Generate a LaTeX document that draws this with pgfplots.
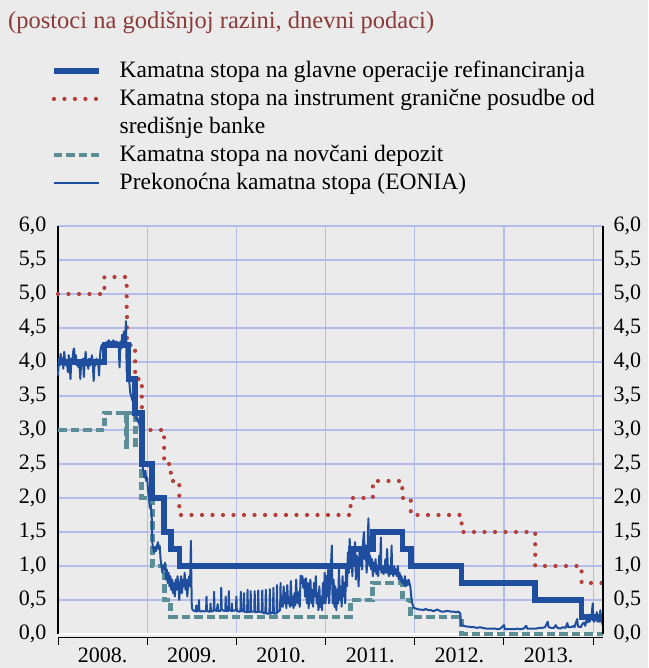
\documentclass[border=0pt]{standalone}
\usepackage{fontspec}
\setmainfont{Liberation Serif}
\usepackage{pgfplots}
\pgfplotsset{compat=1.18}
\definecolor{bg}{HTML}{EBEBEB}
\definecolor{mblue}{HTML}{1F4E9E}
\definecolor{mred}{HTML}{B5403A}
\definecolor{mteal}{HTML}{5C8E95}
\definecolor{mgrid}{HTML}{B4BCEB}
\definecolor{mtitle}{HTML}{8B3A3A}
\pgfplotstableread{
t v
2008.00 3.80
2008.01 4.05
2008.02 3.95
2008.03 4.12
2008.04 3.98
2008.05 4.05
2008.06 3.90
2008.07 4.15
2008.08 4.00
2008.09 3.95
2008.10 4.02
2008.11 3.85
2008.12 4.10
2008.13 4.00
2008.14 3.75
2008.15 4.05
2008.16 3.98
2008.17 4.15
2008.18 4.20
2008.19 4.05
2008.20 4.10
2008.21 3.95
2008.22 4.00
2008.23 3.92
2008.24 4.00
2008.25 3.75
2008.26 4.00
2008.27 3.95
2008.28 4.05
2008.29 3.78
2008.30 4.00
2008.31 4.15
2008.32 3.95
2008.33 4.00
2008.34 3.90
2008.35 4.05
2008.36 3.95
2008.37 4.00
2008.38 4.10
2008.39 3.98
2008.40 3.72
2008.41 4.00
2008.42 3.95
2008.43 4.05
2008.44 3.98
2008.45 4.00
2008.46 3.80
2008.47 4.08
2008.48 4.20
2008.49 4.25
2008.50 4.18
2008.51 4.28
2008.52 4.20
2008.53 4.28
2008.54 4.22
2008.55 4.30
2008.56 4.25
2008.57 4.32
2008.58 4.28
2008.59 4.22
2008.60 4.30
2008.61 4.25
2008.62 4.32
2008.63 4.28
2008.64 4.30
2008.65 4.25
2008.66 4.30
2008.67 4.28
2008.68 4.25
2008.69 3.92
2008.70 4.30
2008.71 4.20
2008.72 4.40
2008.73 4.28
2008.74 4.45
2008.75 4.25
2008.762 4.60
2008.77 3.85
2008.78 3.90
2008.79 3.75
2008.80 3.70
2008.81 3.55
2008.82 3.50
2008.83 3.45
2008.84 3.42
2008.85 3.35
2008.86 3.30
2008.87 3.20
2008.88 3.15
2008.89 3.18
2008.90 3.12
2008.91 3.10
2008.92 3.00
2008.93 2.85
2008.94 2.55
2008.95 2.45
2008.96 2.38
2008.97 2.30
2008.98 2.40
2008.99 2.25
2009.00 2.30
2009.01 2.10
2009.02 2.00
2009.03 1.85
2009.04 1.90
2009.05 1.75
2009.06 1.30
2009.07 1.25
2009.08 1.20
2009.09 1.28
2009.10 1.22
2009.11 1.30
2009.12 1.35
2009.13 1.25
2009.14 1.30
2009.15 1.10
2009.16 1.00
2009.17 0.90
2009.18 1.00
2009.19 0.95
2009.20 1.05
2009.21 0.80
2009.22 0.95
2009.23 0.75
2009.24 0.90
2009.25 0.70
2009.26 0.85
2009.27 0.65
2009.28 0.80
2009.29 0.60
2009.30 0.75
2009.31 0.55
2009.32 0.80
2009.33 0.65
2009.34 0.85
2009.35 0.70
2009.36 0.50
2009.37 0.75
2009.38 0.85
2009.39 0.60
2009.40 0.80
2009.41 0.70
2009.42 0.90
2009.43 0.65
2009.44 0.80
2009.45 0.55
2009.46 0.75
2009.47 0.85
2009.48 0.70
2009.49 1.37
2009.495 0.80
2009.50 0.40
2009.51 0.35
2009.53 0.34
2009.545 0.33
2009.55 0.42
2009.555 0.33
2009.575 0.34
2009.58 0.50
2009.585 0.34
2009.60 0.33
2009.62 0.34
2009.64 0.33
2009.66 0.34
2009.665 0.55
2009.67 0.34
2009.69 0.33
2009.705 0.33
2009.71 0.45
2009.715 0.33
2009.745 0.34
2009.75 0.62
2009.755 0.35
2009.78 0.34
2009.79 0.44
2009.795 0.34
2009.825 0.34
2009.83 0.68
2009.835 0.36
2009.86 0.34
2009.875 0.34
2009.88 0.55
2009.885 0.34
2009.91 0.34
2009.915 0.63
2009.92 0.35
2009.945 0.34
2009.95 0.45
2009.955 0.34
2009.995 0.35
2010.00 0.55
2010.005 0.34
2010.03 0.33
2010.045 0.33
2010.05 0.62
2010.055 0.34
2010.08 0.33
2010.085 0.60
2010.09 0.33
2010.12 0.32
2010.125 0.65
2010.13 0.33
2010.155 0.32
2010.16 0.63
2010.165 0.33
2010.20 0.33
2010.205 0.63
2010.21 0.32
2010.24 0.32
2010.245 0.64
2010.25 0.33
2010.285 0.32
2010.29 0.64
2010.295 0.31
2010.325 0.31
2010.33 0.65
2010.335 0.30
2010.37 0.30
2010.375 0.66
2010.38 0.30
2010.41 0.31
2010.415 0.68
2010.42 0.30
2010.45 0.30
2010.455 0.72
2010.46 0.32
2010.49 0.35
2010.495 0.75
2010.50 0.40
2010.51 0.55
2010.52 0.40
2010.53 0.70
2010.54 0.45
2010.55 0.60
2010.56 0.38
2010.57 0.72
2010.58 0.45
2010.59 0.50
2010.60 0.40
2010.61 0.78
2010.62 0.42
2010.63 0.55
2010.64 0.38
2010.65 0.60
2010.66 0.42
2010.67 0.80
2010.68 0.50
2010.69 0.45
2010.70 0.62
2010.71 0.40
2010.72 0.86
2010.73 0.75
2010.74 0.85
2010.75 0.68
2010.76 0.80
2010.77 0.55
2010.78 0.82
2010.79 0.45
2010.80 0.75
2010.81 0.38
2010.82 0.70
2010.83 0.80
2010.84 0.45
2010.85 0.65
2010.86 0.40
2010.87 0.75
2010.88 0.55
2010.89 0.85
2010.90 0.45
2010.91 0.60
2010.92 0.35
2010.93 0.70
2010.94 0.40
2010.95 0.55
2010.96 0.35
2010.97 0.75
2010.98 0.45
2010.99 0.90
2011.00 0.45
2011.01 0.85
2011.02 0.55
2011.03 0.95
2011.04 0.45
2011.05 0.75
2011.06 1.00
2011.07 1.30
2011.075 0.70
2011.08 0.45
2011.09 0.80
2011.10 0.40
2011.11 0.70
2011.12 0.35
2011.13 0.65
2011.14 0.45
2011.15 0.95
2011.16 0.50
2011.17 0.70
2011.18 0.40
2011.19 0.85
2011.20 0.55
2011.21 0.75
2011.22 0.45
2011.23 1.00
2011.24 0.70
2011.25 1.20
2011.26 0.90
2011.27 1.40
2011.28 1.05
2011.29 1.25
2011.30 0.85
2011.31 1.20
2011.32 1.00
2011.33 1.35
2011.34 0.80
2011.35 1.15
2011.36 1.05
2011.37 0.70
2011.38 1.20
2011.39 1.00
2011.40 1.25
2011.41 0.95
2011.42 1.35
2011.43 1.50
2011.44 1.10
2011.45 1.30
2011.46 0.90
2011.47 1.20
2011.48 1.70
2011.49 1.00
2011.50 1.15
2011.51 0.95
2011.52 1.10
2011.53 0.85
2011.54 1.05
2011.55 0.92
2011.56 1.10
2011.57 0.88
2011.58 1.00
2011.59 0.85
2011.60 1.15
2011.61 0.95
2011.62 1.42
2011.625 0.90
2011.63 0.95
2011.64 1.00
2011.65 0.88
2011.66 0.95
2011.67 1.10
2011.68 0.90
2011.69 1.25
2011.70 0.92
2011.71 0.85
2011.72 1.00
2011.73 0.88
2011.74 1.30
2011.745 0.95
2011.75 0.90
2011.76 0.85
2011.77 1.00
2011.78 0.88
2011.79 0.95
2011.80 0.85
2011.81 1.00
2011.82 0.80
2011.83 0.90
2011.84 0.78
2011.85 0.85
2011.86 0.75
2011.87 0.80
2011.88 0.72
2011.89 0.85
2011.90 0.70
2011.91 0.78
2011.92 0.72
2011.93 0.80
2011.94 0.75
2011.95 0.70
2011.96 0.55
2011.97 0.45
2011.98 0.42
2011.99 0.38
2012.00 0.38
2012.02 0.37
2012.05 0.36
2012.08 0.36
2012.10 0.35
2012.12 0.37
2012.15 0.35
2012.18 0.35
2012.20 0.34
2012.22 0.34
2012.25 0.36
2012.28 0.34
2012.30 0.33
2012.33 0.33
2012.36 0.34
2012.40 0.33
2012.43 0.33
2012.46 0.32
2012.49 0.33
2012.51 0.30
2012.52 0.13
2012.55 0.12
2012.58 0.11
2012.60 0.11
2012.63 0.10
2012.66 0.10
2012.70 0.09
2012.73 0.10
2012.76 0.09
2012.80 0.08
2012.83 0.08
2012.87 0.08
2012.90 0.08
2012.93 0.07
2012.96 0.08
2013.00 0.13
2013.01 0.07
2013.04 0.07
2013.08 0.07
2013.12 0.07
2013.15 0.08
2013.18 0.07
2013.22 0.08
2013.25 0.12
2013.26 0.08
2013.30 0.08
2013.33 0.08
2013.36 0.08
2013.40 0.09
2013.43 0.09
2013.46 0.10
2013.49 0.18
2013.50 0.10
2013.53 0.09
2013.56 0.09
2013.58 0.13
2013.60 0.09
2013.63 0.08
2013.66 0.10
2013.69 0.09
2013.71 0.16
2013.72 0.10
2013.75 0.10
2013.78 0.12
2013.79 0.10
2013.82 0.22
2013.83 0.11
2013.86 0.10
2013.88 0.15
2013.90 0.17
2013.91 0.12
2013.93 0.22
2013.94 0.17
2013.955 0.28
2013.96 0.18
2013.98 0.25
2013.995 0.45
2014.00 0.20
2014.01 0.18
2014.02 0.28
2014.03 0.20
2014.04 0.32
2014.05 0.18
2014.06 0.27
2014.07 0.18
2014.08 0.35
2014.09 0.20
2014.10 0.16
2014.11 0.12
}\eonia
\pgfplotsset{
  common/.style={
    scale only axis, width=545pt, height=408pt,
    at={(58pt,34pt)}, anchor=south west,
    xmin=2008, xmax=2014.11, ymin=0, ymax=6,
    ytick={0,0.5,...,6},
    major tick length=0pt,
    tick label style={font=\fontsize{22}{26}\selectfont, text=black},
    /pgf/number format/.cd, use comma, fixed, fixed zerofill, precision=1, assume math mode=true,
  }
}
\begin{document}
\begin{tikzpicture}
\useasboundingbox (0,0) rectangle (648pt,668pt);
\fill[bg] (0,0) rectangle (648pt,668pt);
\begin{axis}[
  common,
  name=main,
  clip=false,
  axis x line*=bottom, axis y line*=left,
  x axis line style={draw=white, line width=1.6pt},
  y axis line style={draw=black, line width=1.2pt},
  xtick={2008.5,2009.5,2010.5,2011.5,2012.5,2013.5},
  xticklabels={2008.,2009.,2010.,2011.,2012.,2013.},
  major x tick style={draw=none},
  major y tick style={draw=none},
  minor xtick={2008,2009,2010,2011,2012,2013,2014},
  minor x tick style={black, line width=1pt, yshift=-4pt},
  minor tick length=7pt,
  tick align=outside,
  xminorgrids=true, ymajorgrids=true,
  minor x grid style={mgrid, line width=1.2pt},
  major y grid style={mgrid, line width=1.2pt},
  xticklabel style={inner sep=0pt, anchor=north, yshift=-14pt},
  yticklabel style={xshift=-8pt},
  legend image code/.code={\draw[#1] (0pt,0pt) -- (45pt,0pt);},
  legend cell align=left,
  legend style={at={(0,1)}, anchor=north west, xshift=-10pt, yshift=167pt,
    draw=none, fill=none, font=\fontsize{23.5}{28}\selectfont, text=black,
    row sep=8.5pt, column sep=18pt, nodes={inner sep=0pt, text height=16pt, text depth=3.5pt}},
]
\addlegendimage{mblue, line width=5.5pt}
\addlegendentry{Kamatna stopa na glavne operacije refinanciranja}
\addlegendimage{mred, line width=4.2pt, line cap=round, dash pattern=on 0pt off 10.5pt}
\addlegendentry{Kamatna stopa na instrument granične posudbe od}
\addlegendimage{empty legend}
\addlegendentry{središnje banke}
\addlegendimage{mteal, line width=4.8pt, dash pattern=on 8.5pt off 4pt}
\addlegendentry{Kamatna stopa na novčani depozit}
\addlegendimage{mblue, line width=2pt}
\addlegendentry{Prekonoćna kamatna stopa (EONIA)}

% deposit facility
\addplot[mteal, line width=4.8pt, dash pattern=on 8.5pt off 4pt, const plot, forget plot] coordinates {
(2008,3.00)(2008.52,3.25)(2008.770,2.75)(2008.773,3.25)(2008.865,2.75)(2008.94,2.00)(2009.055,1.00)(2009.19,0.50)(2009.265,0.25)(2011.28,0.50)(2011.53,0.75)(2011.86,0.50)(2011.955,0.25)(2012.525,0.00)(2014.11,0.00)};
% marginal lending facility
\addplot[mred, line width=4.2pt, line cap=round, dash pattern=on 0pt off 10.5pt, const plot, forget plot] coordinates {
(2008,5.00)(2008.52,5.25)(2008.770,4.75)(2008.773,4.25)(2008.865,3.75)(2008.94,3.00)(2009.19,2.50)(2009.265,2.25)(2009.36,1.75)(2011.28,2.00)(2011.53,2.25)(2011.86,2.00)(2011.955,1.75)(2012.525,1.50)(2013.35,1.00)(2013.87,0.75)(2014.11,0.75)};
% main refinancing operations
\addplot[mblue, line width=5.5pt, const plot, forget plot] coordinates {
(2008,4.00)(2008.52,4.25)(2008.79,3.75)(2008.865,3.25)(2008.94,2.50)(2009.055,2.00)(2009.19,1.50)(2009.265,1.25)(2009.36,1.00)(2011.28,1.25)(2011.53,1.50)(2011.86,1.25)(2011.955,1.00)(2012.525,0.75)(2013.35,0.50)(2013.87,0.25)(2014.11,0.25)};
% EONIA
\addplot[mblue, line width=2pt, line join=round, forget plot] table[x=t, y=v] {\eonia};
\end{axis}
\begin{axis}[
  common,
  axis x line=none, axis y line*=right,
  y axis line style={draw=black, line width=1.2pt},
  major y tick style={draw=none},
  yticklabel style={xshift=7pt},
]
\addplot[draw=none] coordinates {(2008,0)};
\end{axis}
\draw[black, line width=1pt] ([yshift=-4pt]main.south west) -- ([yshift=-4pt]main.south east);
\node[anchor=base west, inner sep=0pt, text=mtitle, font=\fontsize{24.5}{28}\selectfont] at (8pt,639pt) {(postoci na godišnjoj razini, dnevni podaci)};
\end{tikzpicture}
\end{document}
